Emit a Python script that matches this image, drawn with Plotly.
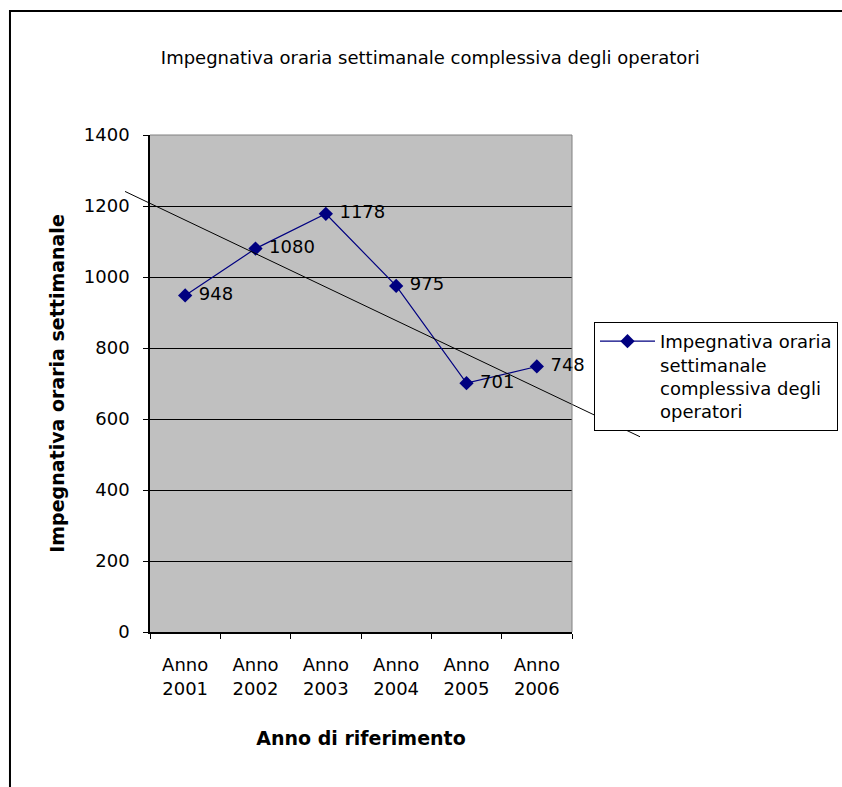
import plotly.graph_objects as go

# ---- data ----
categories = ["Anno 2001", "Anno 2002", "Anno 2003", "Anno 2004", "Anno 2005", "Anno 2006"]
tick_labels = ["Anno<br>2001", "Anno<br>2002", "Anno<br>2003", "Anno<br>2004", "Anno<br>2005", "Anno<br>2006"]
values = [948, 1080, 1178, 975, 701, 748]
y_ticks = [0, 200, 400, 600, 800, 1000, 1200, 1400]
# hand-drawn trend line endpoints (category index units, value units)
trend_x = [-0.855, 6.467]
trend_y = [1241, 550]

series_name = "Impegnativa oraria<br>settimanale<br>complessiva degli<br>operatori"
FONT = "DejaVu Sans"
Y_MAX = 1400
N = len(categories)


def to_paper_x(i):
    return (i + 0.5) / N


def to_paper_y(v):
    return v / Y_MAX


fig = go.Figure()
fig.add_trace(go.Scatter(
    x=categories, y=values, mode="lines+markers+text",
    name=series_name,
    line=dict(color="#000080", width=1.2),
    marker=dict(symbol="diamond", size=11, color="#000080"),
    text=[" " + str(v) for v in values], textposition="middle right",
    textfont=dict(family=FONT, size=18, color="black"),
    cliponaxis=False,
))

shapes = [
    # trend line (extends beyond plot area)
    dict(type="line", xref="paper", yref="paper",
         x0=to_paper_x(trend_x[0]), y0=to_paper_y(trend_y[0]),
         x1=to_paper_x(trend_x[1]), y1=to_paper_y(trend_y[1]),
         line=dict(color="black", width=1)),
    # plot area border top / right
    dict(type="line", xref="paper", yref="paper", x0=0, x1=1, y0=1, y1=1,
         line=dict(color="#808080", width=1)),
    dict(type="line", xref="paper", yref="paper", x0=1, x1=1, y0=0, y1=1,
         line=dict(color="#808080", width=1)),
    # chart outer border
    dict(type="rect", xref="paper", yref="paper",
         x0=-0.3318, x1=1.8, y0=-0.5, y1=1.2495,
         line=dict(color="black", width=2)),
]

fig.update_layout(
    width=842, height=787,
    margin=dict(l=150, r=270, t=135, b=155, autoexpand=False),
    paper_bgcolor="white",
    plot_bgcolor="#C0C0C0",
    font=dict(family=FONT, size=18, color="black"),
    title=dict(text="Impegnativa oraria settimanale complessiva degli operatori",
               x=0.511, xref="container", xanchor="center",
               y=1 - 58 / 787, yref="container", yanchor="middle",
               font=dict(family=FONT, size=18, color="black")),
    xaxis=dict(
        type="category", range=[-0.5, N - 0.5],
        tickvals=categories, ticktext=tick_labels,
        tickson="boundaries", ticks="outside", ticklen=5, tickcolor="black",
        showline=True, linecolor="black", linewidth=1.5,
        showgrid=False, zeroline=False,
        ticklabelstandoff=16,
        tickfont=dict(family=FONT, size=18),
        title=dict(text="<b>Anno di riferimento</b>", standoff=34,
                   font=dict(family=FONT, size=19)),
    ),
    yaxis=dict(
        range=[0, Y_MAX], tickvals=y_ticks,
        ticks="outside", ticklen=5, tickcolor="black",
        showline=True, linecolor="black", linewidth=1.5,
        showgrid=True, gridcolor="black", gridwidth=1,
        zeroline=False,
        ticklabelstandoff=10,
        tickfont=dict(family=FONT, size=18),
        title=dict(text="<b>Impegnativa oraria settimanale</b>", standoff=14,
                   font=dict(family=FONT, size=19)),
    ),
    legend=dict(
        x=(594 - 150) / 422, xanchor="left",
        y=(632 - 322) / 497, yanchor="top",
        bordercolor="black", borderwidth=1, bgcolor="white",
        valign="top", itemwidth=55,
        font=dict(family=FONT, size=18),
    ),
    showlegend=True,
    shapes=shapes,
)

fig.write_html("out.html")
